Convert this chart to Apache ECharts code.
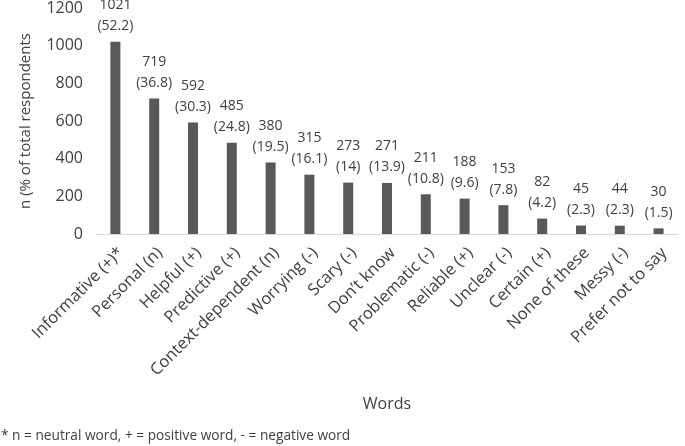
<!DOCTYPE html>
<html><head><meta charset="utf-8">
<script src="https://cdn.jsdelivr.net/npm/echarts@6/dist/echarts.min.js"></script>
<style>html,body{margin:0;padding:0;background:#fff}#c{width:685px;height:446px}</style>
</head><body><div id="c"></div>
<script>
const categories = ["Informative (+)*","Personal (n)","Helpful (+)","Predictive (+)","Context-dependent (n)","Worrying (-)","Scary (-)","Don\u2019t know","Problematic (-)","Reliable (+)","Unclear (-)","Certain (+)","None of these","Messy (-)","Prefer not to say"];
const counts = [1021,719,592,485,380,315,273,271,211,188,153,82,45,44,30];
const percents = ["52.2","36.8","30.3","24.8","19.5","16.1","14","13.9","10.8","9.6","7.8","4.2","2.3","2.3","1.5"];
const yTicks = [0,200,400,600,800,1000,1200];
const FONT = "Open Sans";
const TXT = "#404040";
const chart = echarts.init(document.getElementById('c'), null, {renderer:'canvas'});
chart.setOption({
  animation:false,
  textStyle:{fontFamily:FONT},
  grid:{left:96,right:7,top:7,bottom:212,containLabel:false},
  xAxis:{type:'category',data:categories,
    axisLine:{lineStyle:{color:'#d9d9d9',width:1}},
    axisTick:{show:false},
    axisLabel:{rotate:45,interval:0,fontFamily:FONT,fontSize:16.5,color:TXT,margin:22,padding:[0,-8,0,0]},
    name:'Words',nameLocation:'middle',nameGap:162,
    nameTextStyle:{fontFamily:FONT,fontSize:16,color:TXT}},
  yAxis:{type:'value',min:yTicks[0],max:yTicks[yTicks.length-1],interval:200,
    axisLine:{show:false},axisTick:{show:false},splitLine:{show:false},
    axisLabel:{fontFamily:FONT,fontSize:16,color:TXT,margin:13,formatter:v=>String(v)},
    name:'n (% of total respondents',nameLocation:'middle',nameGap:63,nameRotate:90,
    nameTextStyle:{fontFamily:FONT,fontSize:15,color:TXT}},
  series:[{type:'bar',data:counts,barWidth:10,
    itemStyle:{color:'#595959'},
    label:{show:true,position:'top',distance:5,fontFamily:FONT,fontSize:14,color:TXT,lineHeight:21,
      formatter:p=>p.value+'\n('+percents[p.dataIndex]+')'}}],
  graphic:[{type:'text',left:1,top:429,style:{text:'* n = neutral word, + = positive word, - = negative word',
    font:'13.7px "'+FONT+'"',fill:TXT}}]
});
</script></body></html>
